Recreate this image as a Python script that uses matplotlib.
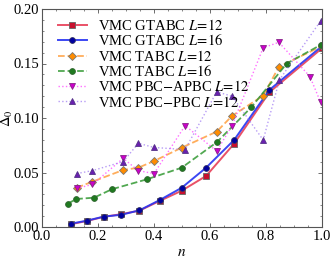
import matplotlib
matplotlib.use("Agg")
import matplotlib.pyplot as plt
from matplotlib.ticker import MultipleLocator, FormatStrFormatter

plt.rcParams['font.family'] = ['Liberation Serif', 'DejaVu Serif']
plt.rcParams['mathtext.fontset'] = 'stix'

# GTABC (shared n values)
n_gt = [0.102, 0.160, 0.220, 0.283, 0.348, 0.421, 0.499, 0.586, 0.686, 0.812, 1.0]
d_gt12 = [0.0025, 0.0055, 0.0093, 0.0118, 0.0150, 0.0240, 0.0333, 0.0468, 0.0764, 0.1236, 0.1640]
d_gt16 = [0.0030, 0.0058, 0.0095, 0.0112, 0.0153, 0.0248, 0.0360, 0.0544, 0.0798, 0.1257, 0.1660]

n_t12 = [0.124, 0.177, 0.290, 0.344, 0.400, 0.499, 0.624, 0.679, 0.790, 0.846, 1.0]
d_t12 = [0.0360, 0.0413, 0.0523, 0.0544, 0.0605, 0.0728, 0.0875, 0.1020, 0.1205, 0.1470, 0.1660]

n_t16 = [0.092, 0.123, 0.186, 0.249, 0.374, 0.499, 0.624, 0.748, 0.874, 0.995]
d_t16 = [0.0214, 0.0257, 0.0269, 0.0346, 0.0437, 0.0544, 0.0777, 0.1100, 0.1500, 0.1670]

n_pbc = [0.124, 0.180, 0.290, 0.344, 0.400, 0.511, 0.624, 0.679, 0.790, 0.846, 0.957, 0.995]
d_apbc = [0.0355, 0.0390, 0.0630, 0.0517, 0.0490, 0.0930, 0.0697, 0.0930, 0.1645, 0.1694, 0.1380, 0.1144]

n_ppbc = [0.124, 0.180, 0.290, 0.344, 0.400, 0.511, 0.624, 0.679, 0.790, 0.848, 0.995]
d_ppbc = [0.0490, 0.0517, 0.0600, 0.0768, 0.0730, 0.0710, 0.1240, 0.1200, 0.0798, 0.1350, 0.1890]

labels = [r'VMC GTABC $L\!=\!12$', r'VMC GTABC $L\!=\!16$', r'VMC TABC $L\!=\!12$',
          r'VMC TABC $L\!=\!16$', r'VMC PBC$-$APBC $L\!=\!12$', r'VMC PBC$-$PBC $L\!=\!12$']

fig = plt.figure(figsize=(3.32, 2.58), dpi=100)
ax = fig.add_axes([42/332, 1-227/258, 280/332, 218/258])

ms = 4.2
ax.plot(n_gt, d_gt12, '-', color=(0.90, 0.2, 0.3, 0.85), lw=1.4, marker='s', ms=ms,
        mfc='#c8102e', mec='#666666', mew=0.6, label=labels[0])
ax.plot(n_gt, d_gt16, '-', color=(0.15, 0.2, 0.95, 0.9), lw=1.4, marker='o', ms=ms,
        mfc='#0000a0', mec='#333366', mew=0.6, label=labels[1])
ax.plot(n_t12, d_t12, '--', color=(1.0, 0.6, 0.2, 0.8), lw=1.3, marker='D', ms=ms,
        mfc='#ff8c00', mec='#777777', mew=0.6, label=labels[2])
ax.plot(n_t16, d_t16, '--', color=(0.2, 0.6, 0.2, 0.85), lw=1.3, marker='o', ms=ms,
        mfc='#1f7a1f', mec='#336633', mew=0.6, label=labels[3])
ax.plot(n_pbc, d_apbc, ':', color=(1.0, 0.3, 1.0, 0.8), lw=1.0, marker='v', ms=ms,
        mfc='#cc00cc', mec='#882288', mew=0.6, label=labels[4])
ax.plot(n_ppbc, d_ppbc, ':', color=(0.6, 0.45, 0.95, 0.7), lw=1.0, marker='^', ms=ms,
        mfc='#6a1fb0', mec='#553388', mew=0.6, label=labels[5])

ax.set_xlim(0, 1.0)
ax.set_ylim(0, 0.20)
ax.xaxis.set_major_locator(MultipleLocator(0.2))
ax.xaxis.set_minor_locator(MultipleLocator(0.05))
ax.yaxis.set_major_locator(MultipleLocator(0.05))
ax.yaxis.set_minor_locator(MultipleLocator(0.01))
ax.xaxis.set_major_formatter(FormatStrFormatter('%.1f'))
ax.yaxis.set_major_formatter(FormatStrFormatter('%.2f'))
ax.tick_params(which='both', direction='in', top=True, right=True, labelsize=10.5,
               colors='#555555', labelcolor='black')
ax.tick_params(which='major', length=3, width=0.6, pad=2)
ax.tick_params(which='minor', length=1.5, width=0.5)
for s in ax.spines.values():
    s.set_color('#555555')
    s.set_linewidth(0.8)

ax.set_xlabel(r'$n$', fontsize=11, labelpad=2)
ax.set_ylabel(r'$\Delta_0$', fontsize=10.5)
ax.yaxis.set_label_coords(-0.098, 0.5)

ax.legend(loc='upper left', frameon=False, fontsize=10.5, handlelength=2.0,
          labelspacing=0.02, handletextpad=0.8, borderaxespad=0.0,
          bbox_to_anchor=(0.035, 0.985))

fig.savefig('out.png', dpi=100)
